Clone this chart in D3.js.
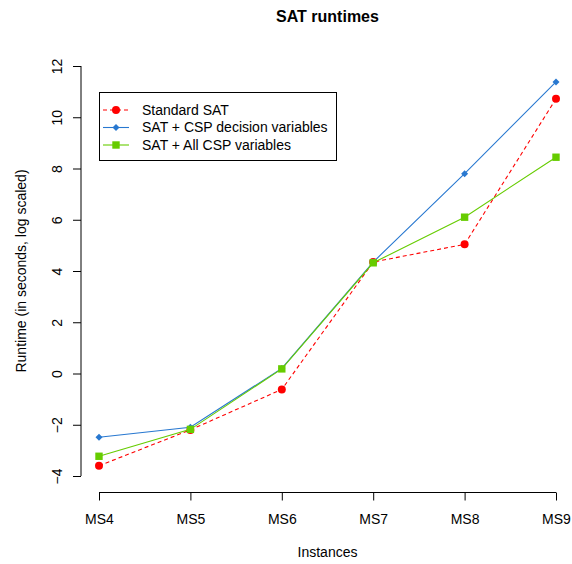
<!DOCTYPE html>
<html>
<head>
<meta charset="utf-8">
<script src="https://cdn.jsdelivr.net/npm/d3@7"></script>
<style>
  body { margin: 0; background: #fff; }
  text { font-family: "Liberation Sans", Arial, sans-serif; }
</style>
</head>
<body>
<div id="chart"></div>
<script>
// chart data
const instances = ['MS4', 'MS5', 'MS6', 'MS7', 'MS8', 'MS9'];
const standardSat = [-3.6, -2.2, -0.62, 4.35, 5.04, 10.72];
const satDecision = [-2.49, -2.1, 0.2, 4.35, 7.8, 11.38];
const satAll = [-3.23, -2.18, 0.18, 4.32, 6.1, 8.44];
const yTicks = [-4, -2, 0, 2, 4, 6, 8, 10, 12];
const seriesNames = ['Standard SAT', 'SAT + CSP decision variables', 'SAT + All CSP variables'];

const W = 572, H = 564;

const svg = d3.select('#chart')
    .append('svg')
    .attr('width', W)
    .attr('height', H);

const xScale = d3.scaleLinear()
    .domain([0, instances.length - 1])
    .range([99, 556]);

const yScale = d3.scaleLinear()
    .domain([-4, 12])
    .range([476, 66]);

// centre of the R plot region (4% padding each side)
const plotMid = (xScale(-0.2) + xScale(5.2)) / 2;

// title
svg.append('text')
    .attr('x', plotMid)
    .attr('y', 22)
    .attr('text-anchor', 'middle')
    .style('font-weight', 'bold')
    .style('font-size', '16px')
    .text('SAT runtimes');

// x axis
const xAxis = svg.append('g')
    .attr('class', 'x-axis')
    .attr('transform', 'translate(0,492.5)')
    .call(d3.axisBottom(xScale)
        .tickValues(d3.range(instances.length))
        .tickFormat(i => instances[i])
        .tickSize(8)
        .tickPadding(14));
xAxis.select('.domain').attr('d', `M${xScale(0)},0H${xScale(instances.length - 1)}`);

// y axis
const yAxis = svg.append('g')
    .attr('class', 'y-axis')
    .attr('transform', 'translate(81,0)')
    .call(d3.axisLeft(yScale).tickValues(yTicks).tickSize(8).tickFormat(d => d < 0 ? '\u2212' + Math.abs(d) : d));
yAxis.select('.domain').attr('d', `M0,${yScale(-4)}V${yScale(12)}`);
yAxis.selectAll('.tick text')
    .attr('x', null)
    .attr('dy', null)
    .attr('text-anchor', 'middle')
    .attr('transform', 'translate(-19,0) rotate(-90)');

svg.selectAll('.x-axis, .y-axis').selectAll('text')
    .style('font-size', '14px')
    .attr('fill', '#000')
    .style('font-family', '"Liberation Sans", Arial, sans-serif');
svg.selectAll('.domain, .tick line').attr('stroke', '#000');

// axis labels
svg.append('text')
    .attr('x', plotMid)
    .attr('y', 557)
    .attr('text-anchor', 'middle')
    .style('font-size', '14px')
    .text('Instances');

svg.append('text')
    .attr('transform', `translate(26,${(66 + 476) / 2}) rotate(-90)`)
    .attr('text-anchor', 'middle')
    .style('font-size', '14px')
    .text('Runtime (in seconds, log scaled)');

const line = d3.line()
    .x((d, i) => xScale(i))
    .y(d => yScale(d));

const series = [
    { values: standardSat, color: '#ff0000', dash: '4,3', shape: 'circle' },
    { values: satDecision, color: '#2878d0', dash: null, shape: 'diamond' },
    { values: satAll, color: '#66cc00', dash: null, shape: 'square' }
];

function drawMarker(g, shape, color, x, y) {
    if (shape === 'circle') {
        g.append('circle').attr('cx', x).attr('cy', y).attr('r', 4).attr('fill', color);
    } else if (shape === 'diamond') {
        g.append('path')
            .attr('d', `M${x},${y - 3.5}L${x + 3.5},${y}L${x},${y + 3.5}L${x - 3.5},${y}Z`)
            .attr('fill', color);
    } else {
        g.append('rect').attr('x', x - 3.7).attr('y', y - 3.7).attr('width', 7.4).attr('height', 7.4).attr('fill', color);
    }
}

series.forEach(s => {
    svg.append('path')
        .datum(s.values)
        .attr('d', line)
        .attr('fill', 'none')
        .attr('stroke', s.color)
        .attr('stroke-width', 1.1)
        .attr('stroke-dasharray', s.dash);
    const g = svg.append('g');
    s.values.forEach((v, i) => drawMarker(g, s.shape, s.color, xScale(i), yScale(v)));
});

// legend
const legend = svg.append('g').attr('class', 'legend');
legend.append('rect')
    .attr('x', 99.5).attr('y', 92.5)
    .attr('width', 237).attr('height', 68)
    .attr('fill', 'none').attr('stroke', '#000');

seriesNames.forEach((name, i) => {
    const y = 110 + i * 17.5;
    const s = series[i];
    legend.append('line')
        .attr('x1', 103).attr('x2', 129)
        .attr('y1', y).attr('y2', y)
        .attr('stroke', s.color)
        .attr('stroke-width', 1.1)
        .attr('stroke-dasharray', s.dash);
    drawMarker(legend, s.shape, s.color, 116, y);
    legend.append('text')
        .attr('x', 142)
        .attr('y', y)
        .attr('dy', '0.35em')
        .style('font-size', '14px')
        .text(name);
});
</script>
</body>
</html>
